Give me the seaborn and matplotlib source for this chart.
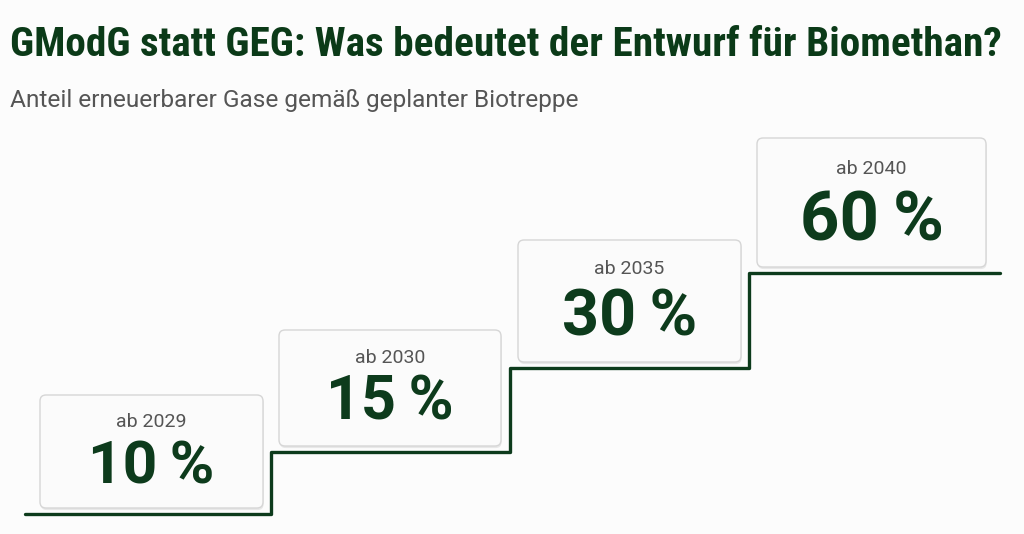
import matplotlib
matplotlib.use("Agg")
import matplotlib.pyplot as plt
import matplotlib.patheffects as pe
from matplotlib import font_manager
from matplotlib.patches import FancyBboxPatch
import pandas as pd
import seaborn as sns

# data
years = ["2029", "2030", "2035", "2040"]
shares = [10, 15, 30, 60]
title = "GModG statt GEG: Was bedeutet der Entwurf für Biomethan?"
subtitle = "Anteil erneuerbarer Gase gemäß geplanter Biotreppe"

# layout (pixel geometry of the staircase sketch)
W, H = 1024, 534
line_start, line_end = 25, 1000
box_left0, box_pitch = 40, 239
box_w = [223, 222, 223, 229]
step_level = [514, 452, 368, 273]
box_top = [395, 330, 240, 138]
pct_size = [43, 43.5, 46, 49]
pct_offset = [72, 72, 78, 84]

GREEN = "#0d3b1c"
GREY = "#555555"

sns.set_theme(style="white")
installed = {f.name for f in font_manager.fontManager.ttflist}
narrow = next((f for f in ["Roboto Condensed", "Liberation Sans Narrow",
                           "DejaVu Sans Condensed", "Roboto"] if f in installed), "DejaVu Sans")
plt.rcParams["font.family"] = ["Roboto", "DejaVu Sans"]

fig = plt.figure(figsize=(W / 100, H / 100), dpi=100, facecolor="#fcfcfc")
ax = fig.add_axes([0, 0, 1, 1])
ax.set_facecolor("#fcfcfc")
ax.set_xlim(0, W)
ax.set_ylim(H, 0)
ax.axis("off")

# staircase line
lefts = [box_left0 + i * box_pitch for i in range(len(years))]
stairs = pd.DataFrame({
    "x": [line_start] + [l - 8 for l in lefts[1:]] + [line_end],
    "y": step_level + [step_level[-1]],
})
sns.lineplot(data=stairs, x="x", y="y", ax=ax, color=GREEN, lw=2.4,
             drawstyle="steps-post", sort=False, estimator=None,
             solid_joinstyle="round", solid_capstyle="round", zorder=2)

# cards
for i, (yr, sh) in enumerate(zip(years, shares)):
    x0, w = lefts[i], box_w[i]
    top, bottom = box_top[i], step_level[i] - 6
    card = FancyBboxPatch((x0, top), w, bottom - top,
                          boxstyle="round,pad=0,rounding_size=6",
                          facecolor="#fbfbfb", edgecolor="#d6d6d6", lw=1.0, zorder=3)
    card.set_path_effects([pe.SimplePatchShadow(offset=(0.5, -1.5), shadow_rgbFace="#000000",
                                                alpha=0.08), pe.Normal()])
    ax.add_patch(card)
    cx = x0 + w / 2
    ax.text(cx, top + 27 + i * 1.2, f"ab {yr}", ha="center", va="center",
            fontsize=14, color=GREY, zorder=4)
    ax.text(cx, top + pct_offset[i], f"{sh}\u2009%", ha="center", va="center",
            fontsize=pct_size[i] / 0.711 * 0.72, fontweight="bold", color=GREEN, zorder=4)

# title / subtitle
t = ax.text(10, 45, title, ha="left", va="center", fontsize=30,
            fontweight="bold", color="#0b3a18", family=[narrow, "DejaVu Sans"])
s = ax.text(10, 100, subtitle, ha="left", va="center", fontsize=16, color=GREY)
fig.canvas.draw()
t.set_fontsize(30 * 993 / t.get_window_extent().width)
s.set_fontsize(16 * 568 / s.get_window_extent().width)

fig.savefig("out.png", dpi=100, facecolor=fig.get_facecolor())
